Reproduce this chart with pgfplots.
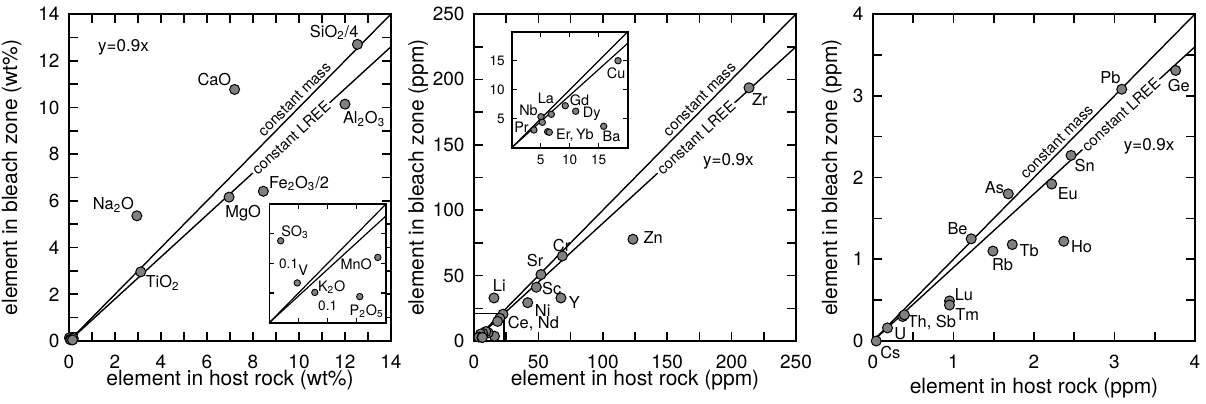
\documentclass[border=0pt]{standalone}
\usepackage{fontspec}
\setmainfont{TeX Gyre Heros}
\usepackage{pgfplots}
\pgfplotsset{compat=1.18}
\definecolor{ptgray}{RGB}{128,128,128}
\pgfplotsset{
  mainax/.style={scale only axis, width=161pt, height=163.5pt, clip=false, anchor=south west,
    axis line style={line width=1pt},
    tick style={black, line width=0.8pt},
    tick align=inside, major tick length=4.5pt, minor tick length=4.5pt,
    tick label style={font=\fontsize{9.5}{10}\selectfont},
    xticklabel style={yshift=-3.5pt}, yticklabel style={xshift=-1.2pt},
    label style={font=\fontsize{10.5}{12}\selectfont},
    /pgf/number format/assume math mode=true},
  insax/.style={scale only axis, clip=false, anchor=south west,
    axis background/.style={fill=white},
    axis line style={line width=0.8pt},
    tick style={black, line width=0.6pt},
    tick align=inside, major tick length=2.5pt,
    tick label style={font=\fontsize{6.8}{7}\selectfont},
    /pgf/number format/assume math mode=true},
  pts/.style={only marks, mark=*, mark size=2.5pt, mark options={fill=ptgray, draw=black, line width=0.5pt}},
  ipts/.style={only marks, mark=*, mark size=1.6pt, mark options={fill=ptgray, draw=black, line width=0.45pt}},
  refl/.style={black, line width=0.7pt, mark=none},
}
\tikzset{
  lab/.style={font=\fontsize{8.2}{9}\selectfont, inner sep=0pt},
  ilab/.style={font=\fontsize{7.2}{8}\selectfont, inner sep=0pt},
  cl/.style={font=\fontsize{7.5}{8}\selectfont},
}
\begin{document}
\begin{tikzpicture}
\useasboundingbox (0,0) rectangle (603pt,201.5pt);
% ---------------- Panel 1 ----------------
\begin{axis}[mainax, at={(34.5pt,31pt)},
  xmin=0, xmax=14, ymin=0, ymax=14,
  xtick={0,2,...,14}, minor xtick={1,3,...,13},
  ytick={0,2,...,14}, minor ytick={1,3,...,13},
  xlabel={element in host rock (wt\%)}, ylabel={element in bleach zone (wt\%)},
  xlabel style={at={(axis description cs:0.5,-0.119)}, anchor=center},
  ylabel style={at={(axis description cs:-0.178,0.5)}, anchor=center}]
\addplot[refl] coordinates {(0,0) (14,12.6)} node[pos=0.69, sloped, fill=white, inner sep=1pt, cl] {constant LREE};
\addplot[refl] coordinates {(0,0) (14,14)} node[pos=0.72, sloped, above, inner sep=1.5pt, cl] {constant mass};
\addplot[black, line width=0.6pt, mark=none] coordinates {(0,0.35) (0.38,0.35) (0.38,0)};
\addplot[pts] coordinates {(12.54,12.7) (7.2,10.77) (12.0,10.14) (8.45,6.41) (6.96,6.16) (2.95,5.36) (3.12,2.96)
  (0.02,0.14) (0.048,0.067) (0.078,0.051) (0.186,0.11) (0.155,0.044)};
\node[lab] at (axis cs:11.53,13.21) {SiO\textsubscript{2}/4};
\node[lab] at (axis cs:6.32,11.2) {CaO};
\node[lab] at (axis cs:12.83,9.5) {Al\textsubscript{2}O\textsubscript{3}};
\node[lab] at (axis cs:10.0,6.74) {Fe\textsubscript{2}O\textsubscript{3}/2};
\node[lab] at (axis cs:7.57,5.49) {MgO};
\node[lab] at (axis cs:1.93,5.84) {Na\textsubscript{2}O};
\node[lab] at (axis cs:4.07,2.49) {TiO\textsubscript{2}};
\node[font=\fontsize{8.5}{9}\selectfont, inner sep=0pt] at (axis cs:2.37,12.57) {y=0.9x};
\end{axis}
% inset panel 1
\begin{axis}[insax, at={(134.65pt,40.15pt)}, width=58.35pt, height=59.35pt,
  xmin=0, xmax=0.2, ymin=0, ymax=0.2,
  xtick={0.05,0.1,0.15}, xticklabels={,0.1,},
  ytick={0.05,0.1,0.15}, yticklabels={,0.1,},
  xticklabel style={anchor=south, yshift=2.5pt},
  yticklabel style={anchor=west, xshift=1.4pt}]
\addplot[black, line width=0.6pt] coordinates {(0,0) (0.2,0.2)};
\addplot[black, line width=0.6pt] coordinates {(0,0) (0.2,0.18)};
\addplot[ipts] coordinates {(0.0195,0.138) (0.048,0.067) (0.078,0.051) (0.186,0.110) (0.155,0.044)};
\node[ilab] at (axis cs:0.044,0.153) {SO\textsubscript{3}};
\node[ilab] at (axis cs:0.058,0.088) {V};
\node[ilab] at (axis cs:0.107,0.060) {K\textsubscript{2}O};
\node[ilab] at (axis cs:0.149,0.099) {MnO};
\node[ilab] at (axis cs:0.167,0.020) {P\textsubscript{2}O\textsubscript{5}};
\end{axis}
% ---------------- Panel 2 ----------------
\begin{axis}[mainax, at={(237pt,31pt)},
  xmin=0, xmax=250, ymin=0, ymax=250,
  xtick={0,50,...,250}, minor xtick={25,75,...,225},
  ytick={0,50,...,250}, minor ytick={25,75,...,225},
  xlabel={element in host rock (ppm)}, ylabel={element in bleach zone (ppm)},
  xlabel style={at={(axis description cs:0.5,-0.119)}, anchor=center},
  ylabel style={at={(axis description cs:-0.173,0.5)}, anchor=center}]
\addplot[refl] coordinates {(0,0) (250,225)} node[pos=0.69, sloped, fill=white, inner sep=1pt, cl] {constant LREE};
\addplot[refl] coordinates {(0,0) (250,250)} node[pos=0.72, sloped, above, inner sep=1.5pt, cl] {constant mass};
\addplot[black, line width=0.6pt, mark=none] coordinates {(0,21) (23.3,21) (23.3,0)};
\addplot[pts] coordinates {(213.5,193.6) (123.4,77.8) (68.6,65) (52,50.8) (48.4,41.1) (67.5,32.9) (15.5,32.9) (41.7,29.3)
  (22.5,20.5) (20,17.4) (18.3,15.0) (15.9,3.7) (11.0,6.3) (9.2,7.2) (6.8,5.8) (5.3,4.4) (5.0,5.3) (3.8,3.0) (6.2,2.8) (6.5,2.7)};
\node[lab] at (axis cs:222,184.7) {Zr};
\node[lab] at (axis cs:139.2,79.1) {Zn};
\node[lab] at (axis cs:68,73.2) {Cr};
\node[lab] at (axis cs:47.4,61.2) {Sr};
\node[lab] at (axis cs:60.3,40) {Sc};
\node[lab] at (axis cs:77.9,29.8) {Y};
\node[lab] at (axis cs:19.7,42.6) {Li};
\node[lab] at (axis cs:53.3,23.5) {Ni};
\node[lab] at (axis cs:46.1,13.3) {Ce, Nd};
\node[font=\fontsize{8.5}{9}\selectfont, inner sep=0pt] at (axis cs:197.5,137.5) {y=0.9x};
\end{axis}
% inset panel 2
\begin{axis}[insax, at={(255.85pt,127.65pt)}, width=58pt, height=58pt,
  xmin=0, xmax=20, ymin=0, ymax=20,
  xtick={5,10,15}, ytick={5,10,15}]
\addplot[black, line width=0.6pt] coordinates {(0,0) (20,20)};
\addplot[black, line width=0.6pt] coordinates {(0,0) (20,18)};
\addplot[ipts] coordinates {(3.84,3.05) (5.05,5.34) (5.28,4.38) (6.83,5.76) (9.24,7.24) (11.03,6.28) (6.2,2.76) (6.48,2.66) (15.86,3.69) (18.33,15.0)};
\node[ilab] at (axis cs:1.7,3.6) {Pr};
\node[ilab] at (axis cs:2.9,6.5) {Nb};
\node[ilab] at (axis cs:5.9,8.5) {La};
\node[ilab] at (axis cs:11.7,8.2) {Gd};
\node[ilab] at (axis cs:13.8,5.76) {Dy};
\node[ilab] at (axis cs:10.9,2.2) {Er,\,Yb};
\node[ilab] at (axis cs:17.2,1.9) {Ba};
\node[ilab] at (axis cs:18,12.9) {Cu};
\end{axis}
% ---------------- Panel 3 ----------------
\begin{axis}[mainax, at={(436.5pt,31pt)},
  xmin=0, xmax=4, ymin=0, ymax=4,
  xtick={0,1,2,3,4}, minor xtick={0.5,1.5,2.5,3.5},
  ytick={0,1,2,3,4}, minor ytick={0.5,1.5,2.5,3.5},
  xlabel={element in host rock (ppm)}, ylabel={element in bleach zone (ppm)},
  xlabel style={at={(axis description cs:0.5,-0.144)}, anchor=center},
  ylabel style={at={(axis description cs:-0.128,0.5)}, anchor=center}]
\addplot[refl] coordinates {(0,0) (4,3.6)} node[pos=0.77, sloped, fill=white, inner sep=1pt, cl] {constant LREE};
\addplot[refl] coordinates {(0,0) (4,4)} node[pos=0.59, sloped, above, inner sep=1.5pt, cl] {constant mass};
\addplot[pts] coordinates {(3.76,3.31) (3.09,3.08) (2.46,2.27) (2.22,1.92) (1.68,1.80) (1.22,1.25) (1.49,1.10) (1.73,1.18) (2.37,1.22)
  (0.95,0.49) (0.95,0.44) (0.37,0.30) (0.39,0.32) (0.18,0.16) (0.04,0.0)};
\node[lab] at (axis cs:2.95,3.22) {Pb};
\node[lab] at (axis cs:3.80,3.12) {Ge};
\node[lab] at (axis cs:2.63,2.15) {Sn};
\node[lab] at (axis cs:2.42,1.80) {Eu};
\node[lab] at (axis cs:1.51,1.88) {As};
\node[lab] at (axis cs:1.05,1.37) {Be};
\node[lab] at (axis cs:1.61,0.93) {Rb};
\node[lab] at (axis cs:1.94,1.10) {Tb};
\node[lab] at (axis cs:2.59,1.15) {Ho};
\node[lab] at (axis cs:1.13,0.57) {Lu};
\node[lab] at (axis cs:1.17,0.33) {Tm};
\node[lab] at (axis cs:0.73,0.23) {Th, Sb};
\node[lab] at (axis cs:0.34,0.09) {U};
\node[lab] at (axis cs:0.215,-0.135) {Cs};
\node[font=\fontsize{8.5}{9}\selectfont, inner sep=0pt] at (axis cs:3.43,2.38) {y=0.9x};
\end{axis}
\end{tikzpicture}
\end{document}
